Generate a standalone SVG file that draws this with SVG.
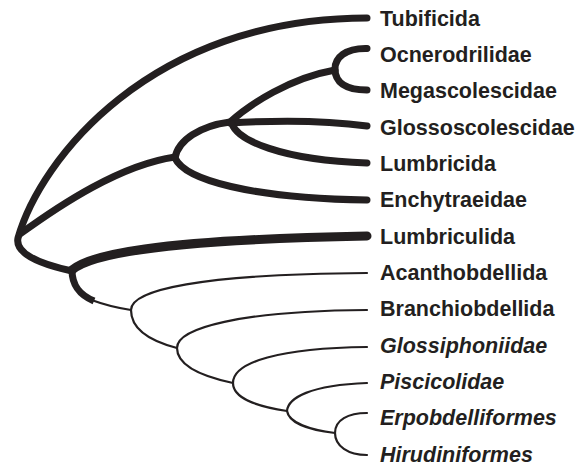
<svg xmlns="http://www.w3.org/2000/svg" width="588" height="466" viewBox="0 0 588 466">
<style>
.e{fill:none;stroke:#231f20;stroke-linecap:round}
.k{stroke-width:7}
.kk{stroke-width:9}
.t{stroke-width:2.2}
.l{font-family:"Liberation Sans",Arial,sans-serif;font-weight:bold;font-size:21.5px;fill:#231f20}
.i{font-style:italic}
</style>
<rect width="588" height="466" fill="#fff"/>
<g id="connectors">
<path class="e k" d="M367,18 C150,18 40,160 18,238 C15,252 35,263 72,271"/>
<path class="e k" d="M20,234 C60,205 120,165 175,157"/>
<path class="e k" d="M175,158 C178,140 200,126 230,122"/>
<path class="e k" d="M175,158 C185,180 250,198 367,200"/>
<path class="e k" d="M230,122 C250,104 290,78 335,70"/>
<path class="e k" d="M230,123 C280,120 330,121 367,126"/>
<path class="e k" d="M232,124 C238,140 280,160 367,163"/>
<path class="e k" d="M367,48.5 C345,48 335,58 335,69 C335,82 345,90 367,90"/>
<path class="e kk" d="M72,270 C90,255 150,240 367,236"/>
<path class="e k" style="stroke-linecap:butt" d="M72,270 C72,286 80,295 94,301"/>
<path class="e t" d="M93,300.5 C105,305 118,308 131,310"/>
<path class="e t" d="M131,310 C131,290 200,274 367,273"/>
<path class="e t" d="M131,310 C131,330 150,341 177,348"/>
<path class="e t" d="M177,348 C177,328 240,311 367,310"/>
<path class="e t" d="M177,348 C177,365 200,376 233,383"/>
<path class="e t" d="M233,383 C233,362 280,348 367,347"/>
<path class="e t" d="M233,383 C233,398 255,406 287,411"/>
<path class="e t" d="M287,411 C288,398 310,385 367,383"/>
<path class="e t" d="M287,411 C289,423 310,430 335,433"/>
<path class="e t" d="M367,413 C348,413 335,420 335,433 C335,446 348,455 367,455"/>
</g>
<g id="n-tubificida"><text class="l" x="380" y="25.5">Tubificida</text></g>
<g id="n-ocnerodrilidae"><text class="l" x="380" y="61.9">Ocnerodrilidae</text></g>
<g id="n-megascolescidae"><text class="l" x="380" y="98.2">Megascolescidae</text></g>
<g id="n-glossoscolescidae"><text class="l" x="380" y="134.6">Glossoscolescidae</text></g>
<g id="n-lumbricida"><text class="l" x="380" y="170.9">Lumbricida</text></g>
<g id="n-enchytraeidae"><text class="l" x="380" y="207.3">Enchytraeidae</text></g>
<g id="n-lumbriculida"><text class="l" x="380" y="243.6">Lumbriculida</text></g>
<g id="n-acanthobdellida"><text class="l" x="380" y="280">Acanthobdellida</text></g>
<g id="n-branchiobdellida"><text class="l" x="380" y="316.3">Branchiobdellida</text></g>
<g id="n-glossiphoniidae"><text class="l i" x="380" y="352.7">Glossiphoniidae</text></g>
<g id="n-piscicolidae"><text class="l i" x="380" y="389">Piscicolidae</text></g>
<g id="n-erpobdelliformes"><text class="l i" x="380" y="425.4">Erpobdelliformes</text></g>
<g id="n-hirudiniformes"><text class="l i" x="380" y="461.7">Hirudiniformes</text></g>
</svg>
